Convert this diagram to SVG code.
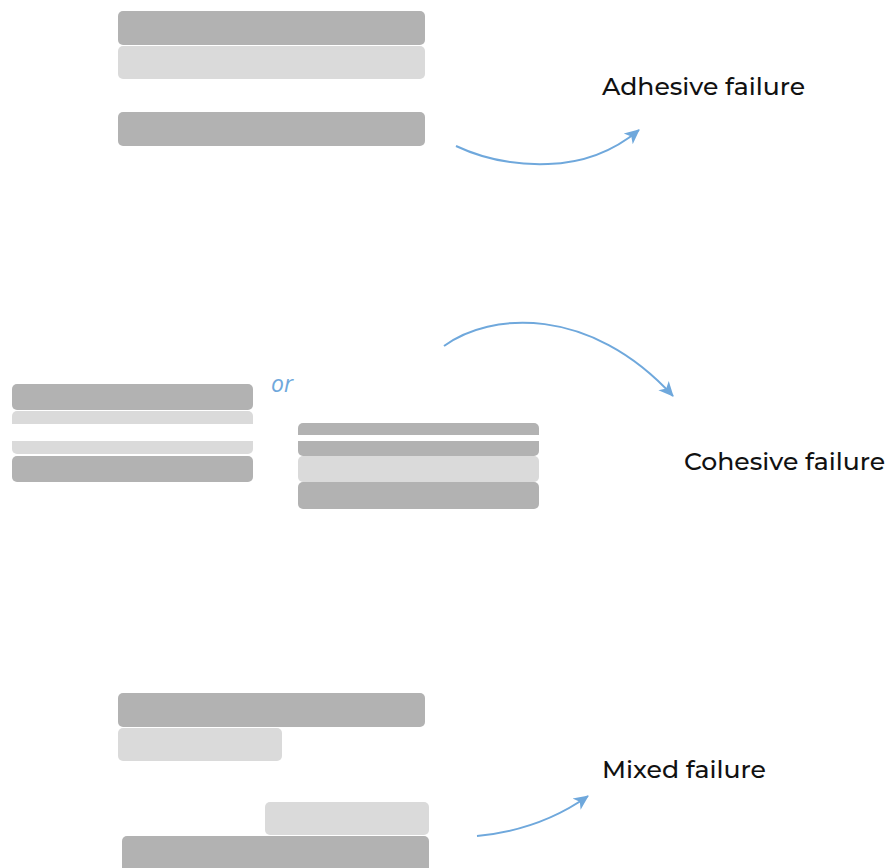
<svg xmlns="http://www.w3.org/2000/svg" width="889" height="868" viewBox="0 0 889 868">
<defs>
<style>
.d{fill:#b2b2b2}
.l{fill:#dadada}
.c{fill:none;stroke:#6fa8dc;stroke-width:2}
.t{font-family:"Montserrat","Open Sans","Liberation Sans",sans-serif;font-size:24px;font-weight:500;fill:#111}
.or{font-family:"Open Sans","Liberation Sans",sans-serif;font-style:italic;font-size:23px;fill:#6fa8dc}
</style>
<marker id="ah" markerUnits="userSpaceOnUse" markerWidth="16" markerHeight="16" viewBox="0 0 16 16" refX="14" refY="8" orient="auto">
<path d="M0,1 L15,8 L0,15 L4,8 Z" fill="#6fa8dc"/>
</marker>
</defs>
<rect width="889" height="868" fill="#fff"/>
<g id="adhesive">
<rect class="d" x="118" y="11" width="307" height="34" rx="5"/>
<rect class="l" x="118" y="46" width="307" height="33" rx="5"/>
<rect class="d" x="118" y="112" width="307" height="34" rx="5"/>
<text class="t" x="602" y="95" textLength="203" lengthAdjust="spacingAndGlyphs">Adhesive failure</text>
</g>
<g id="cohesive-left">
<rect class="d" x="12" y="384" width="241" height="26" rx="5"/>
<path class="l" d="M12,424 V416 a5,5 0 0 1 5,-5 H248 a5,5 0 0 1 5,5 V424 Z"/>
<path class="l" d="M12,441 H253 V449 a5,5 0 0 1 -5,5 H17 a5,5 0 0 1 -5,-5 Z"/>
<rect class="d" x="12" y="456" width="241" height="26" rx="5"/>
</g>
<text id="or" class="or" x="271" y="392">or</text>
<g id="cohesive-right">
<path class="d" d="M298,435 V428 a5,5 0 0 1 5,-5 H534 a5,5 0 0 1 5,5 V435 Z"/>
<path class="d" d="M298,441 H539 V451 a5,5 0 0 1 -5,5 H303 a5,5 0 0 1 -5,-5 Z"/>
<rect class="l" x="298" y="456" width="241" height="26" rx="5"/>
<rect class="d" x="298" y="482" width="241" height="27" rx="5"/>
<text class="t" x="684" y="470" textLength="201" lengthAdjust="spacingAndGlyphs">Cohesive failure</text>
</g>
<g id="mixed">
<rect class="d" x="118" y="693" width="307" height="34" rx="5"/>
<rect class="l" x="118" y="728" width="164" height="33" rx="5"/>
<rect class="l" x="265" y="802" width="164" height="33" rx="5"/>
<rect class="d" x="122" y="836" width="307" height="40" rx="5"/>
<text class="t" x="602" y="778" textLength="164" lengthAdjust="spacingAndGlyphs">Mixed failure</text>
</g>
<g id="connectors">
<path class="c" d="M456,146 C490,162 520,165 548,164 C585,163 615,150 639,130" marker-end="url(#ah)"/>
<path class="c" d="M444,346 C490,312 590,305 673,396" marker-end="url(#ah)"/>
<path class="c" d="M477,836 Q540,830 588,796" marker-end="url(#ah)"/>
</g>
</svg>
